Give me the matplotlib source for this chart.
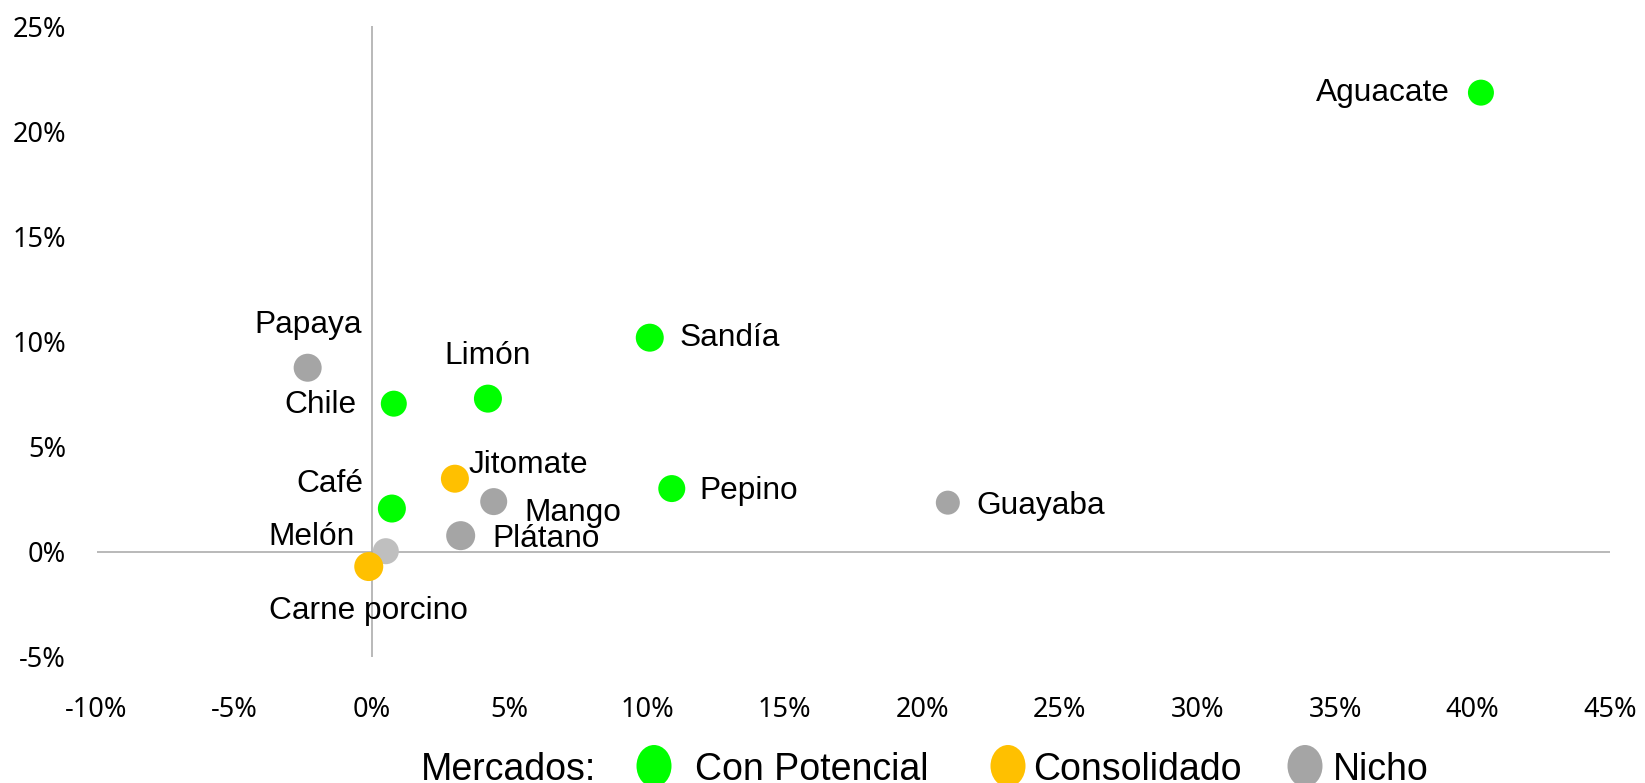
import matplotlib.pyplot as plt
from matplotlib.patches import Ellipse
from matplotlib.ticker import FuncFormatter

# Datos: crecimiento (x) vs participación (y), en %
productos = ['Aguacate', 'Sandía', 'Pepino', 'Guayaba', 'Jitomate', 'Mango', 'Plátano',
             'Papaya', 'Limón', 'Chile', 'Café', 'Melón', 'Carne porcino']
x_vals = [40.30, 10.10, 10.90, 20.93, 3.02, 4.43, 3.23, -2.33, 4.22, 0.80, 0.73, 0.51, -0.11]
y_vals = [21.84, 10.18, 3.00, 2.33, 3.47, 2.38, 0.76, 8.75, 7.28, 7.04, 2.05, 0.02, -0.71]
mercado = ['Con Potencial', 'Con Potencial', 'Con Potencial', 'Nicho', 'Consolidado', 'Nicho', 'Nicho',
           'Nicho', 'Con Potencial', 'Con Potencial', 'Con Potencial', 'Nicho claro', 'Consolidado']
diametros = [26, 28, 27, 24, 28, 27, 29, 28, 28, 26, 28, 26, 29]

colores = {'Con Potencial': '#00FF00', 'Consolidado': '#FFC000',
           'Nicho': '#A5A5A5', 'Nicho claro': '#BFBFBF'}
leyenda = ['Con Potencial', 'Consolidado', 'Nicho']

x_ticks = list(range(-10, 50, 5))
y_ticks = list(range(-5, 30, 5))

# posicion de cada etiqueta respecto al punto (pixeles, ha, va)
offsets = {
    'Aguacate': (-31, 0, 'right', 'center'),
    'Sandía': (30, 0, 'left', 'center'),
    'Pepino': (28, -2, 'left', 'center'),
    'Guayaba': (29, -3, 'left', 'center'),
    'Jitomate': (14, 14, 'left', 'center'),
    'Mango': (31, -11, 'left', 'center'),
    'Plátano': (32, -3, 'left', 'center'),
    'Papaya': (0, 43, 'center', 'center'),
    'Limón': (0, 43, 'center', 'center'),
    'Chile': (-37, -1, 'right', 'center'),
    'Café': (-29, 25, 'right', 'center'),
    'Melón': (-31, 14, 'right', 'center'),
    'Carne porcino': (0, -44, 'center', 'center'),
}

fig = plt.figure(figsize=(16.45, 7.83), dpi=100)
ax = fig.add_axes([0.0587, 0.1613, 0.9202, 0.8052])

ax.set_xlim(-10, 45)
ax.set_ylim(-5, 25)
for s in ax.spines.values():
    s.set_visible(False)
ax.axhline(0, color='#A6A6A6', lw=1.1, zorder=1)
ax.axvline(0, color='#A6A6A6', lw=1.1, zorder=1)

sizes = [(d * 0.72) ** 2 for d in diametros]
ax.scatter(x_vals, y_vals, s=sizes, c=[colores[m] for m in mercado], linewidths=0, zorder=3)

for nombre, xv, yv in zip(productos, x_vals, y_vals):
    dx, dy, ha, va = offsets[nombre]
    ax.annotate(nombre, (xv, yv), xytext=(dx, dy), textcoords='offset pixels',
                ha=ha, va=va, fontsize=22.8, family='Liberation Sans', zorder=4)

ax.set_xticks(x_ticks)
ax.set_yticks(y_ticks)
fmt = FuncFormatter(lambda v, p: f'{v:.0f}%')
ax.xaxis.set_major_formatter(fmt)
ax.yaxis.set_major_formatter(fmt)
ax.tick_params(length=0, labelsize=19.5)
ax.tick_params(axis='x', pad=28)
ax.tick_params(axis='y', pad=22)
for lab in ax.get_xticklabels() + ax.get_yticklabels():
    lab.set_family('Noto Sans')

# leyenda manual abajo
W, H = 1645, 783
fig.text(421 / W, 3 / H, 'Mercados:', fontsize=27, family='Liberation Sans', va='baseline')
centros = [654, 1008, 1305]
textos_x = [695, 1033, 1333]
for cat, cx, tx in zip(leyenda, centros, textos_x):
    fig.add_artist(Ellipse((cx / W, 17 / H), 35 / W, 42 / H, transform=fig.transFigure,
                           color=colores[cat], lw=0))
    fig.text(tx / W, 3 / H, cat, fontsize=27, family='Liberation Sans', va='baseline')

fig.savefig('out.png', dpi=100)
